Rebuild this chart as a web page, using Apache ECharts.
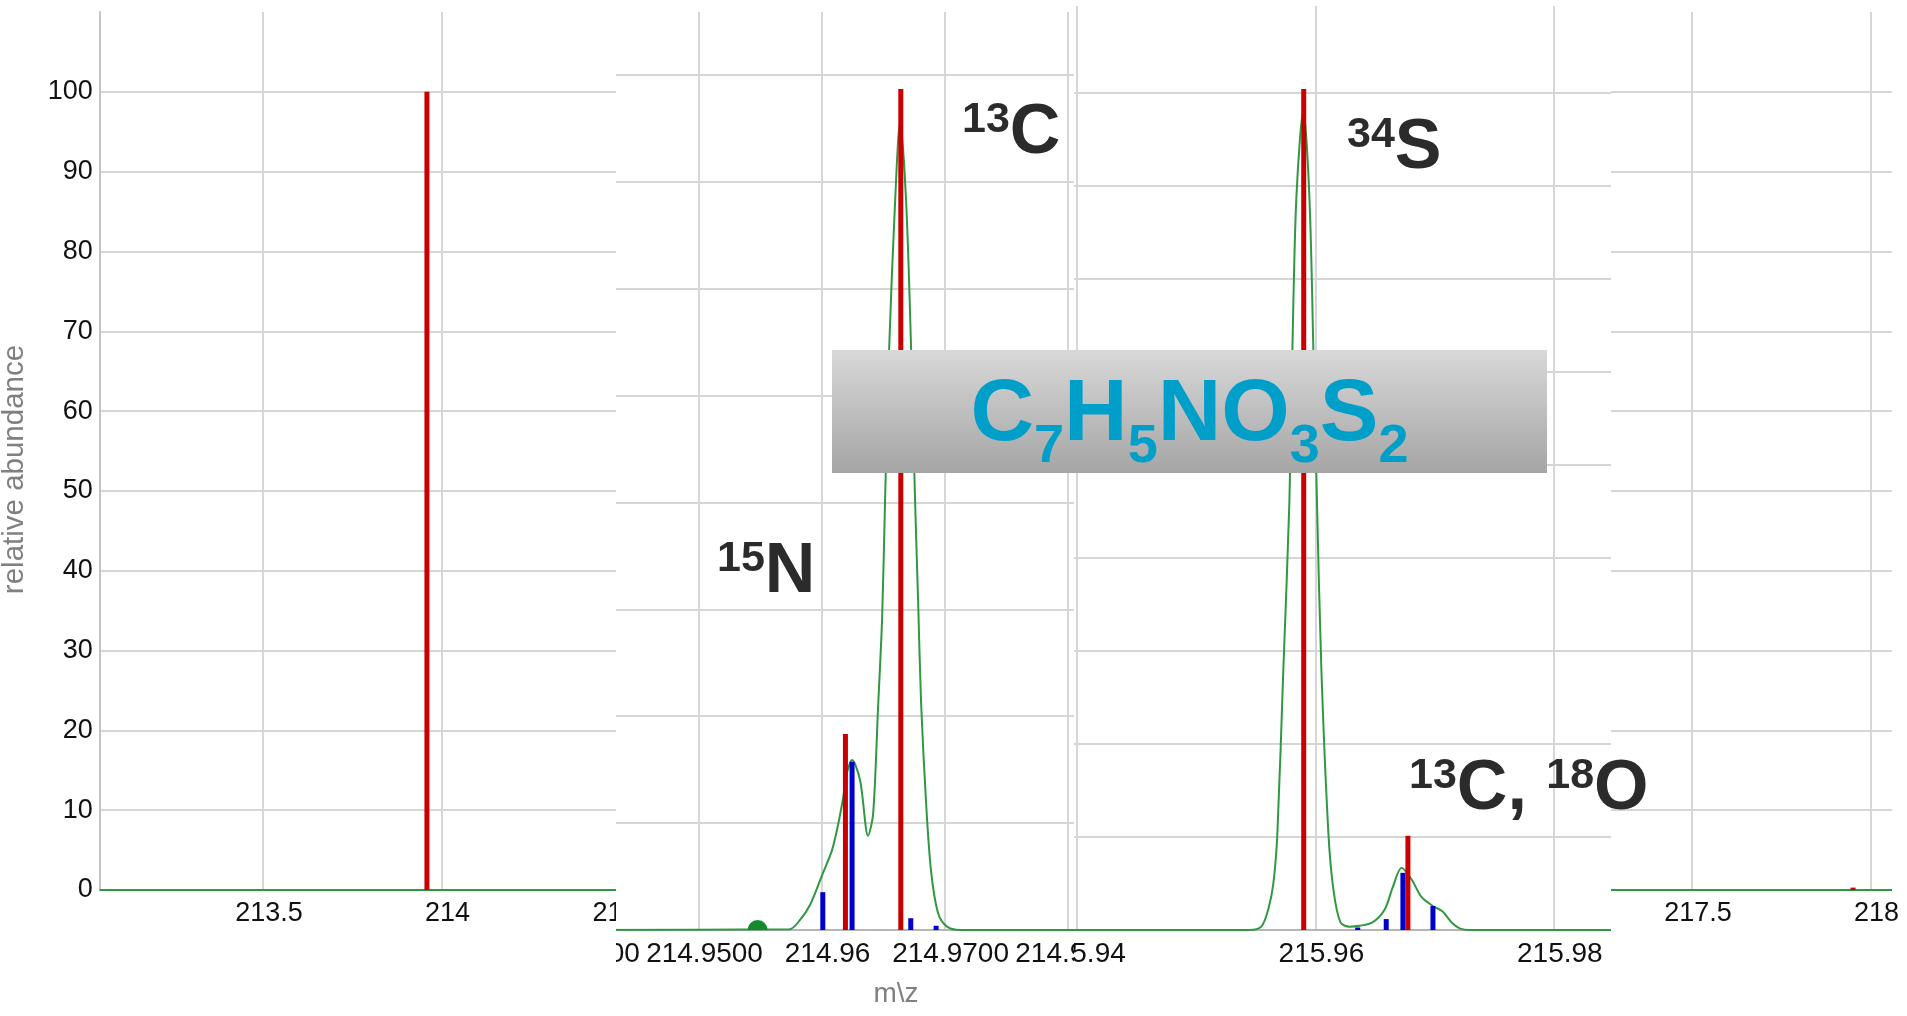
<!DOCTYPE html>
<html>
<head>
<meta charset="utf-8">
<script src="https://cdn.jsdelivr.net/npm/echarts@6/dist/echarts.min.js"></script>
<style>
html,body{margin:0;padding:0;width:1907px;height:1016px;overflow:hidden;background:#fff;}
.full{position:absolute;left:0;top:0;width:1907px;height:1016px;}
.wrap{position:absolute;top:0;height:1016px;overflow:hidden;background:#fff;}
</style>
</head>
<body>
<div id="base" class="full"></div>
<div id="w2" class="wrap" style="left:616px;width:458px;"><div id="p2" class="full" style="left:-616px;"></div></div>
<div id="w3" class="wrap" style="left:1074px;width:537px;"><div id="p3" class="full" style="left:-1074px;"></div></div>
<div id="ov" class="full" style="pointer-events:none;"></div>
<script>
// ---------- DATA ----------
// Full-range spectrum (visible left part and right end)
const fullXRange = [213.043, 218.06];
const fullXTicks = [213.5, 214, 214.5, 215, 215.5, 216, 216.5, 217, 217.5, 218];
const fullXTickLabels = ['213.5', '214', '214.5', '215', '215.5', '216', '216.5', '217', '217.5', '218'];
const fullProfile = [[213.043, 0], [218.06, 0]];
const fullTheoretical = [[213.959, 100], [217.951, 0.3]];

// Zoom on M+1 (214.96 region)
const m1XRange = [214.94, 214.9921];
const m1XTicks = [214.94, 214.95, 214.96, 214.97, 214.98];
const m1XTickLabels = ['214.9400', '214.9500', '214.96', '214.9700', '214.9800'];
const m1Profile = [
  [214.9400, 0], [214.9574, 0.1], [214.95825, 1.2], [214.95907, 3.0], [214.96004, 6.5],
  [214.96085, 9.5], [214.96134, 12.5], [214.96175, 15.7], [214.96207, 18.7], [214.96248, 20.2],
  [214.96313, 17.8], [214.96378, 11.2], [214.96419, 13.8], [214.96459, 26.4], [214.96492, 37],
  [214.96516, 51], [214.96549, 69], [214.96598, 86.7], [214.96638, 96], [214.96687, 86.7],
  [214.96728, 69], [214.9676, 51], [214.96785, 39], [214.96809, 27], [214.9685, 15],
  [214.9689, 7], [214.96947, 2], [214.9702, 0.4], [214.97126, 0], [214.9921, 0]
];
const m1Theoretical = [[214.96194, 23.3], [214.96644, 100]];
const m1Fine = [[214.9601, 4.5], [214.96248, 20.0], [214.96725, 1.4], [214.96931, 0.5]];
const m1Marker = [[214.9548, 0]];

// Zoom on M+2 (215.96 region)
const m2XRange = [215.9397, 215.98555];
const m2XTicks = [215.94, 215.96, 215.98];
const m2XTickLabels = ['215.94', '215.96', '215.98'];
const m2Profile = [
  [215.9397, 0], [215.95445, 0], [215.95546, 0.4], [215.95605, 2.5], [215.95647, 5.5],
  [215.95681, 11.5], [215.95731, 31], [215.95782, 51], [215.95807, 69], [215.9584, 87],
  [215.95899, 97.5], [215.9595, 87], [215.95983, 69], [215.96013, 51], [215.9605, 31],
  [215.96109, 11.5], [215.96151, 4.8], [215.9621, 0.9], [215.96286, 0.4], [215.9637, 0.5],
  [215.96479, 0.9], [215.9658, 2.4], [215.96647, 5.0], [215.96723, 7.4], [215.96807, 6.0],
  [215.96891, 3.9], [215.96992, 2.8], [215.97067, 2.2], [215.97143, 0.9], [215.9721, 0.2],
  [215.97294, 0], [215.98555, 0]
];
const m2Theoretical = [[215.95902, 100], [215.96776, 11.2]];
const m2Fine = [[215.96355, 0.3], [215.96594, 1.3], [215.96734, 6.8], [215.96986, 2.85]];

// Annotations
const formulaParts = [['C', '7'], ['H', '5'], ['N', ''], ['O', '3'], ['S', '2']];
const isotopeLabels = [
  [['13', 'C']],
  [['15', 'N']],
  [['34', 'S']],
  [['13', 'C, '], ['18', 'O']]
];

// ---------- STYLE ----------
const FONT = "'Liberation Sans', Arial, Helvetica, sans-serif";
const GRID_LINE = {color: '#d6d6d6', width: 2};
const LABEL_COLOR = '#111111';
const RED = '#c80000';
const BLUE = '#0000cc';
const GREEN = '#2f9843';

function labelFor(ticks, labels) {
  return function (v) {
    for (let i = 0; i < ticks.length; i++) {
      if (Math.abs(ticks[i] - v) < 1e-7) return labels[i];
    }
    return '';
  };
}

function sticks(data, color, width, z) {
  return {
    type: 'custom', data: data, z: z, clip: true, silent: true,
    encode: {x: 0, y: 1},
    renderItem: function (params, api) {
      const b = api.coord([api.value(0), 0]);
      const t = api.coord([api.value(0), api.value(1)]);
      const h = Math.max(b[1] - t[1], 2);
      return {type: 'rect', shape: {x: b[0] - width / 2, y: b[1] - h, width: width, height: h}, style: {fill: color}};
    }
  };
}

function profile(data, z) {
  return {
    type: 'line', data: data, showSymbol: false, smooth: 0.3, z: z, silent: true,
    lineStyle: {color: GREEN, width: 2}
  };
}

function xAxisFor(range, ticks, labels, fontSize, extra) {
  return Object.assign({
    type: 'value', min: range[0], max: range[1],
    axisLine: {show: false},
    axisTick: {show: false, customValues: ticks},
    axisLabel: {
      customValues: ticks, formatter: labelFor(ticks, labels),
      fontSize: fontSize, color: LABEL_COLOR, fontFamily: FONT, margin: 10,
      padding: [0, 0, 0, 12], showMinLabel: true, showMaxLabel: true, hideOverlap: false
    },
    splitLine: {show: true, lineStyle: GRID_LINE}
  }, extra || {});
}

// ---------- BASE (full range) ----------
const base = echarts.init(document.getElementById('base'));
base.setOption({
  animation: false,
  backgroundColor: '#ffffff',
  grid: {left: 99.7, right: 15, top: 12, bottom: 126, outerBoundsMode: 'none'},
  xAxis: xAxisFor(fullXRange, fullXTicks, fullXTickLabels, 27),
  yAxis: {
    type: 'value', min: 0, max: 110, interval: 10,
    axisLine: {show: true, lineStyle: {color: '#c4c4c4', width: 2}},
    axisTick: {show: false},
    axisLabel: {fontSize: 27, color: LABEL_COLOR, fontFamily: FONT, margin: 7, showMaxLabel: false},
    splitLine: {show: true, showMaxLine: false, lineStyle: GRID_LINE},
    name: 'relative abundance', nameLocation: 'middle', nameGap: 70,
    nameTextStyle: {fontSize: 29.5, color: '#808080', fontFamily: FONT, padding: [0, 37, 0, 0]}
  },
  series: [profile(fullProfile, 2), sticks(fullTheoretical, RED, 5, 3)]
});

// ---------- PANEL M+1 ----------
const p2 = echarts.init(document.getElementById('p2'));
p2.setOption({
  animation: false,
  backgroundColor: '#ffffff',
  grid: {left: 575.5, right: 690.5, top: 12, bottom: 86, outerBoundsMode: 'none'},
  xAxis: xAxisFor(m1XRange, m1XTicks, m1XTickLabels, 28, {
    axisLine: {show: true, lineStyle: {color: '#b5b5b5', width: 2}},
    name: 'm\\z', nameLocation: 'middle', nameGap: 50,
    nameTextStyle: {fontSize: 28, color: '#808080', fontFamily: FONT}
  }),
  yAxis: {
    type: 'value', min: 0, max: 109.15, interval: 12.71,
    axisLine: {show: false}, axisTick: {show: false}, axisLabel: {show: false},
    splitLine: {show: true, showMaxLine: false, lineStyle: GRID_LINE}
  },
  series: [
    profile(m1Profile, 2),
    sticks(m1Theoretical, RED, 5, 3),
    sticks(m1Fine, BLUE, 5, 4),
    {
      type: 'custom', data: m1Marker, z: 5, silent: true, encode: {x: 0, y: 1},
      renderItem: function (params, api) {
        const c = api.coord([api.value(0), api.value(1)]);
        return {type: 'sector', shape: {cx: c[0], cy: c[1], r0: 0, r: 10, startAngle: Math.PI, endAngle: 2 * Math.PI},
          style: {fill: '#148a2c'}};
      }
    }
  ]
});

// ---------- PANEL M+2 ----------
const p3 = echarts.init(document.getElementById('p3'));
p3.setOption({
  animation: false,
  backgroundColor: '#ffffff',
  grid: {left: 1073.4, right: 287, top: 6, bottom: 86, outerBoundsMode: 'none'},
  xAxis: xAxisFor(m2XRange, m2XTicks, m2XTickLabels, 28, {
    axisLine: {show: true, lineStyle: {color: '#b5b5b5', width: 2}}
  }),
  yAxis: {
    type: 'value', min: 0, max: 109.87, interval: 11.06,
    axisLine: {show: false}, axisTick: {show: false}, axisLabel: {show: false},
    splitLine: {show: true, showMaxLine: false, lineStyle: GRID_LINE}
  },
  series: [
    profile(m2Profile, 2),
    sticks(m2Theoretical, RED, 5, 3),
    sticks(m2Fine, BLUE, 5, 4)
  ]
});

// ---------- OVERLAY (annotations) ----------
function richFormula(parts) {
  return parts.map(function (p) { return '{m|' + p[0] + '}' + (p[1] ? '{b|' + p[1] + '}' : ''); }).join('');
}
function richIso(parts) {
  return parts.map(function (p) { return '{s|' + p[0] + '}{m|' + p[1] + '}'; }).join('');
}
const isoRich = {
  s: {fontSize: 43, lineHeight: 48, verticalAlign: 'top', fontWeight: 'bold', fontFamily: FONT, fill: '#2b2b2b'},
  m: {fontSize: 70, lineHeight: 72, verticalAlign: 'top', fontWeight: 'bold', fontFamily: FONT, fill: '#2b2b2b'}
};
const isoPos = [[962, 99], [717, 538], [1347, 114], [1409, 755]];
const ov = echarts.init(document.getElementById('ov'));
const graphics = [
  {
    type: 'rect', z: 10, silent: true,
    shape: {x: 832, y: 350, width: 715, height: 123},
    style: {fill: new echarts.graphic.LinearGradient(0, 0, 0, 1, [
      {offset: 0, color: '#d8d8d8'}, {offset: 1, color: '#a5a5a5'}])}
  },
  {
    type: 'text', z: 11, silent: true, x: 1189.5, y: 371.5,
    style: {
      text: richFormula(formulaParts), align: 'center', verticalAlign: 'top',
      rich: {
        m: {fontSize: 88, lineHeight: 88, verticalAlign: 'top', fontWeight: 'bold', fontFamily: FONT, fill: '#009fca'},
        b: {fontSize: 54, lineHeight: 54, verticalAlign: 'top', padding: [49, 0, 0, 0], fontWeight: 'bold', fontFamily: FONT, fill: '#009fca'}
      }
    }
  }
];
isotopeLabels.forEach(function (parts, i) {
  graphics.push({
    type: 'text', z: 12, silent: true, x: isoPos[i][0], y: isoPos[i][1],
    style: {text: richIso(parts), align: 'left', verticalAlign: 'top', rich: isoRich}
  });
});
ov.setOption({animation: false, backgroundColor: 'transparent', graphic: graphics});
</script>
</body>
</html>
